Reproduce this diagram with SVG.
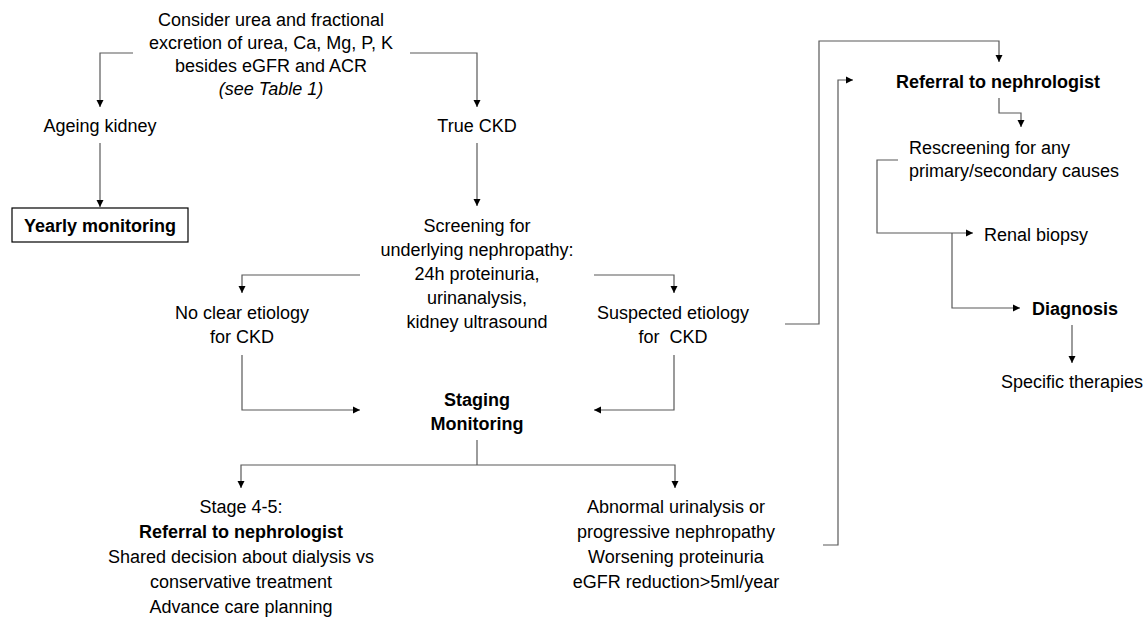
<svg xmlns="http://www.w3.org/2000/svg" width="1148" height="617" viewBox="0 0 1148 617">
<style>
text{font-family:"Liberation Sans",Arial,sans-serif;font-size:18px;fill:#000}
.c{text-anchor:middle}
.b{font-weight:bold}
.i{font-style:italic}
.ln{fill:none;stroke:#595959;stroke-width:1.2}
.ar{fill:none;stroke:#595959;stroke-width:1.2;marker-end:url(#ah)}
</style>
<defs>
<marker id="ah" markerUnits="userSpaceOnUse" markerWidth="8" markerHeight="8" refX="7" refY="4" orient="auto">
<path d="M0,0.5 L7,4 L0,7.5 z" fill="#000"/>
</marker>
</defs>
<rect width="1148" height="617" fill="#fff"/>
<g id="connectors">
<path class="ar" d="M133,53 H100 V107"/>
<path class="ar" d="M410,53 H477 V107"/>
<path class="ar" d="M100,143 V207"/>
<path class="ar" d="M477,143 V206"/>
<path class="ar" d="M360,275 H242 V293"/>
<path class="ar" d="M594,275 H674 V293"/>
<path class="ar" d="M242,355 V410 H360"/>
<path class="ar" d="M674,355 V410 H594"/>
<path class="ln" d="M477,440 V465"/>
<path class="ar" d="M477,465 H241 V488"/>
<path class="ar" d="M477,465 H675 V488"/>
<path class="ar" d="M785,324 H819 V41 H999 V62"/>
<path class="ar" d="M823,545 H838 V80 H853"/>
<path class="ar" d="M999,98 V113 H1021 V127"/>
<path class="ar" d="M898,160 H877 V233 H973"/>
<path class="ar" d="M952,233 V308 H1020"/>
<path class="ar" d="M1072,325 V363"/>
</g>
<g id="n-start">
<text class="c" x="271" y="26">Consider urea and fractional</text>
<text class="c" x="271" y="49">excretion of urea, Ca, Mg, P, K</text>
<text class="c" x="271" y="72">besides eGFR and ACR</text>
<text class="c i" x="271" y="95">(see Table 1)</text>
</g>
<g id="n-ageing"><text class="c" x="100" y="132">Ageing kidney</text></g>
<g id="n-true"><text class="c" x="477" y="132">True CKD</text></g>
<g id="n-yearly">
<rect x="12" y="208" width="176" height="34" fill="none" stroke="#000" stroke-width="1.2"/>
<text class="c b" x="100" y="232">Yearly monitoring</text>
</g>
<g id="n-screening">
<text class="c" x="477" y="232">Screening for</text>
<text class="c" x="477" y="256">underlying nephropathy:</text>
<text class="c" x="477" y="280">24h proteinuria,</text>
<text class="c" x="477" y="304">urinanalysis,</text>
<text class="c" x="477" y="328">kidney ultrasound</text>
</g>
<g id="n-noclear">
<text class="c" x="242" y="319">No clear etiology</text>
<text class="c" x="242" y="343">for CKD</text>
</g>
<g id="n-suspected">
<text class="c" x="673" y="319">Suspected etiology</text>
<text class="c" x="673" y="343" xml:space="preserve">for  CKD</text>
</g>
<g id="n-staging">
<text class="c b" x="477" y="406">Staging</text>
<text class="c b" x="477" y="430">Monitoring</text>
</g>
<g id="n-stage45">
<text class="c" x="241" y="513">Stage 4-5:</text>
<text class="c b" x="241" y="538">Referral to nephrologist</text>
<text class="c" x="241" y="563">Shared decision about dialysis vs</text>
<text class="c" x="241" y="588">conservative treatment</text>
<text class="c" x="241" y="613">Advance care planning</text>
</g>
<g id="n-abnormal">
<text class="c" x="676" y="513">Abnormal urinalysis or</text>
<text class="c" x="676" y="538">progressive nephropathy</text>
<text class="c" x="676" y="563">Worsening proteinuria</text>
<text class="c" x="676" y="588">eGFR reduction&gt;5ml/year</text>
</g>
<g id="n-referral"><text class="c b" x="998" y="88">Referral to nephrologist</text></g>
<g id="n-rescreening">
<text x="909" y="154">Rescreening for any</text>
<text x="909" y="177">primary/secondary causes</text>
</g>
<g id="n-biopsy"><text x="984" y="241">Renal biopsy</text></g>
<g id="n-diagnosis"><text class="b" x="1032" y="315">Diagnosis</text></g>
<g id="n-therapies"><text class="c" x="1072" y="388">Specific therapies</text></g>
</svg>
